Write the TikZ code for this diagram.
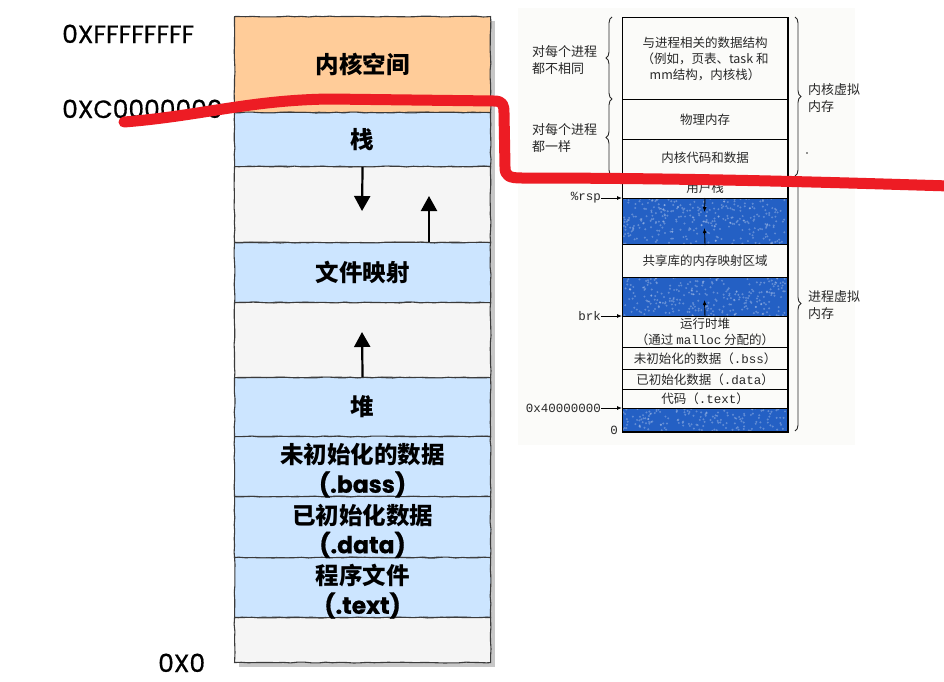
\documentclass[tikz,border=0pt]{standalone}
\usepackage{fontspec}
\setmainfont{Poppins}
\newfontfamily\latm{Poppins}[FakeBold=0.6]
\newfontfamily\cjk{Noto Sans CJK SC}
\newfontfamily\mono{Liberation Mono}
\usetikzlibrary{decorations.pathmorphing,decorations.pathreplacing,arrows.meta}
\definecolor{kern}{HTML}{FFCC99}
\definecolor{seg}{HTML}{CCE5FF}
\definecolor{gap}{HTML}{F5F5F5}
\definecolor{segline}{HTML}{3A3A3A}
\definecolor{redpen}{RGB}{237,28,36}
\definecolor{scanbg}{RGB}{251,251,249}
\definecolor{scanblue}{RGB}{36,96,196}
\definecolor{scantext}{RGB}{40,40,40}
\tikzset{
  segbox/.style={rectangle, draw=segline, line width=1.1pt, minimum width=256,
    inner sep=0pt, anchor=north west, align=center,
    font=\cjk\bfseries\fontsize{23.5}{28}\selectfont,
    decorate, decoration={random steps, segment length=7pt, amplitude=0.45pt}},
  segtext/.style={inner sep=0pt, align=center, font=\cjk\bfseries\fontsize{23.5}{29}\selectfont},
  addr/.style={anchor=base west, inner sep=0pt, font=\latm\fontsize{25}{30}\selectfont},
  growarrow/.style={line width=2.2pt, -{Triangle[length=15pt,width=16pt]}},
  rowbox/.style={rectangle, draw=black, line width=1pt, minimum width=165,
    inner sep=0pt, anchor=north west, align=center, text=scantext,
    font=\cjk\fontsize{12.5}{16}\selectfont},
  bluebox/.style={rowbox, fill=scanblue},
  note/.style={inner sep=0pt, align=left, text=scantext, font=\cjk\fontsize{13}{17}\selectfont},
  ptr/.style={inner sep=0pt, text=scantext, font=\mono\fontsize{12.5}{15}\selectfont},
  thinarrow/.style={line width=0.9pt, -{Latex[length=5pt,width=4pt]}},
  bracestyle/.style={decorate, decoration={brace, amplitude=6pt}, line width=0.9pt, draw=scantext},
}
\newcommand{\lat}[1]{{\latm #1}}
\begin{document}
\begin{tikzpicture}[x=1pt,y=-1pt]
\useasboundingbox (0,0) rectangle (944,681);
\fill[white] (0,0) rectangle (944,681);

% ---------- left memory layout ----------
\fill[black!22] (239,21) rectangle (495,667);
\node[segbox, fill=kern, minimum height=96] (k) at (234,16) {内核空间};
\node[segbox, fill=seg, minimum height=54] (s) at (234,112) {栈};
\node[segbox, fill=gap, minimum height=76] (g1) at (234,166) {};
\node[segbox, fill=seg, minimum height=60] (f) at (234,242) {文件映射};
\node[segbox, fill=gap, minimum height=75] (g2) at (234,302) {};
\node[segbox, fill=seg, minimum height=59] (h) at (234,377) {堆};
\node[segbox, fill=seg, minimum height=60] (b) at (234,436) {};
\node[segbox, fill=seg, minimum height=61] (d) at (234,496) {};
\node[segbox, fill=seg, minimum height=60] (t) at (234,557) {};
\node[segbox, fill=gap, minimum height=45] (g3) at (234,617) {};
\node[segtext] (bt) at ([yshift=-4pt]b.center) {未初始化的数据\\\lat{(.bass)}};
\node[segtext] (dt) at ([yshift=-4pt]d.center) {已初始化数据\\\lat{(.data)}};
\node[segtext] (tt) at ([yshift=-4pt]t.center) {程序文件\\\lat{(.text)}};

\coordinate (a1) at (362,211);
\coordinate (a2) at (429,196);
\coordinate (a3) at (362,332);
\draw[growarrow] (s.south) -- (a1);
\draw[growarrow] (f.north -| a2) -- (a2);
\draw[growarrow] (h.north) -- (a3);

\node[addr] (l1) at (62,43) {0XFFFFFFFF};
\node[addr] (l2) at (62,118) {0XC0000000};
\node[addr] (l3) at (158,672) {0X0};

% ---------- right scanned figure ----------
\fill[scanbg] (518,8) rectangle (855,445);
\node[rowbox, minimum height=82] (r1) at (622,17) {与进程相关的数据结构\\（例如，页表、task 和\\mm结构，内核栈）};
\node[rowbox, minimum height=40] (r2) at (622,99) {物理内存};
\node[rowbox, minimum height=37] (r3) at (622,139) {内核代码和数据};
\node[rowbox, minimum height=22] (r4) at (622,176) {用户栈};
\node[bluebox, minimum height=46] (r5) at (622,198) {};
\node[rowbox, minimum height=33] (r6) at (622,244) {共享库的内存映射区域};
\node[bluebox, minimum height=39] (r7) at (622,277) {};
\node[rowbox, minimum height=31] (r8) at (622,316) {运行时堆\\（通过 {\mono malloc} 分配的）};
\node[rowbox, minimum height=22] (r9) at (622,347) {未初始化的数据（{\mono .bss}）};
\node[rowbox, minimum height=20] (r10) at (622,369) {已初始化数据（{\mono .data}）};
\node[rowbox, minimum height=19] (r11) at (622,389) {代码（{\mono .text}）};
\node[bluebox, minimum height=23] (r12) at (622,408) {};

% texture of the blue areas
\pgfmathsetseed{11}
\foreach \ya/\hh/\nn in {198/46/320, 277/39/270, 408/23/160}{
  \begin{scope}
    \clip (623,\ya+1) rectangle (786,\ya+\hh-1);
    \foreach \i in {1,...,\nn}{
      \fill[white, opacity=0.28] ({623+163*rnd},{\ya+\hh*rnd}) circle (1.1pt);
    }
  \end{scope}
}
\draw[line width=1pt] (r1.north west) rectangle (r12.south east);

\coordinate (u1) at (704.5,212);
\coordinate (u2) at (704.5,228);
\coordinate (u3) at (704.5,300);
\draw[thinarrow] (r5.north) -- (u1);
\draw[thinarrow] (r5.south) -- (u2);
\draw[thinarrow] (r7.south) -- (u3);

\node[ptr, anchor=east] (rsp) at (601,198) {\%rsp};
\node[ptr, anchor=east] (brk) at (601,316) {brk};
\node[ptr, anchor=east] (x4) at (601,408) {0x40000000};
\node[ptr, anchor=east] (z0) at (618,430) {0};
\draw[thinarrow] (rsp.east) -- (r5.north west);
\draw[thinarrow] (brk.east) -- (r8.north west);
\draw[thinarrow] (x4.east) -- (r12.north west);

\draw[bracestyle] (612,99) -- (612,17);
\draw[bracestyle] (612,176) -- (612,99);
\draw[bracestyle] (795,17) -- (795,176);
\draw[bracestyle] (795,176) -- (795,431);
\node[note, anchor=west] (n1) at (532,60) {对每个进程\\都不相同};
\node[note, anchor=west] (n2) at (532,138) {对每个进程\\都一样};
\node[note, anchor=west] (n3) at (808,98) {内核虚拟\\内存};
\node[note, anchor=west] (n4) at (808,305) {进程虚拟\\内存};
\fill[scantext] (807,153) circle (0.9pt);

% ---------- red pen annotation ----------
\draw[redpen, line width=11pt, line cap=round, line join=round]
  (124,122) .. controls (200,116) and (250,100) .. (330,99)
  -- (494,101) .. controls (503,101) and (504,105) .. (504,113)
  -- (505,167) .. controls (505,176) and (509,178) .. (522,178)
  .. controls (700,178) and (850,183) .. (950,186);
\end{tikzpicture}
\end{document}
